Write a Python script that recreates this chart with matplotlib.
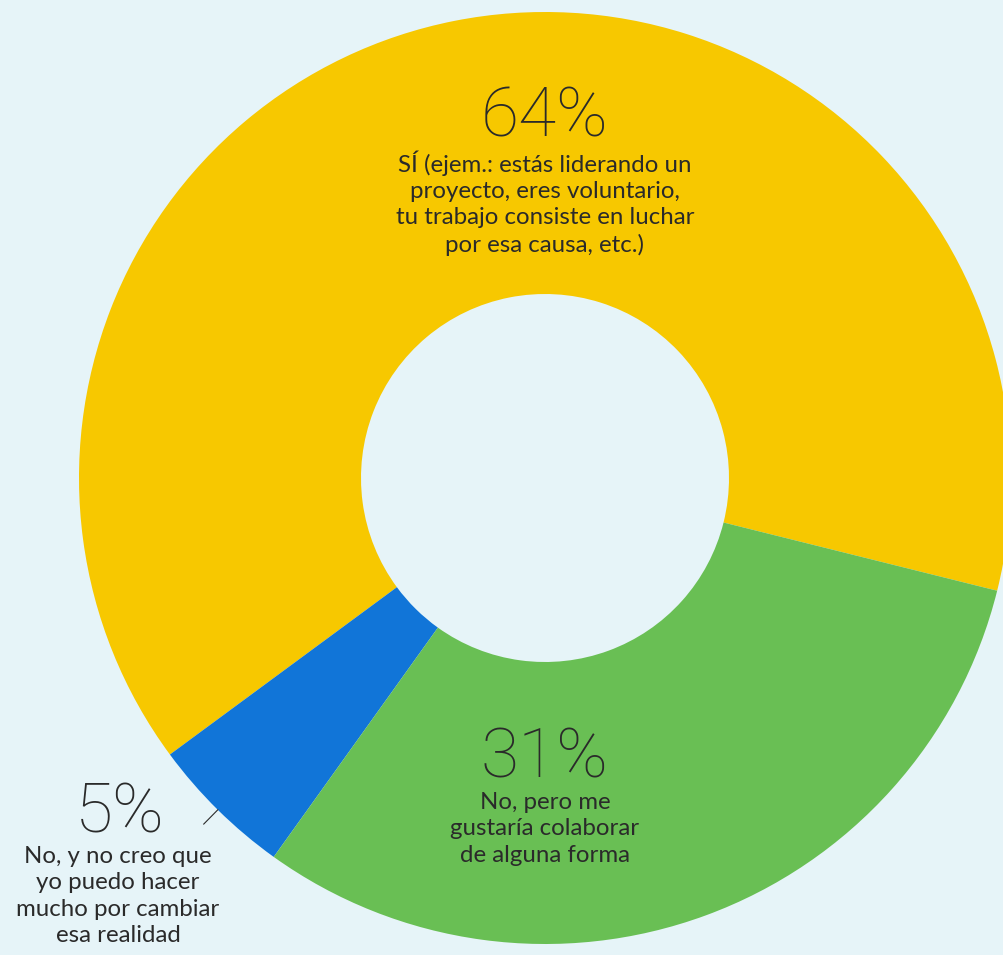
import numpy as np
import matplotlib.pyplot as plt

# survey answers, counterclockwise from the start angle
labels = ['SÍ (ejem.: estás liderando un\nproyecto, eres voluntario,\ntu trabajo consiste en luchar\npor esa causa, etc.)',
          'No, y no creo que\nyo puedo hacer\nmucho por cambiar\nesa realidad',
          'No, pero me\ngustaría colaborar\nde alguna forma']
shares = [64, 5, 31]
colors = ['#F7C800', '#1175D8', '#69BF54']

bg = '#E6F4F8'
ink = '#2A2A2A'
W, H = 1004, 955
cx, cy = 545, H - 478
R, r = 466, 184

fig = plt.figure(figsize=(W / 100, H / 100), dpi=100, facecolor=bg)
ax = fig.add_axes([0, 0, 1, 1])
ax.set_facecolor(bg)

wedges, _ = ax.pie(shares, colors=colors, startangle=-14, counterclock=True,
                   center=(cx, cy), radius=R,
                   wedgeprops=dict(width=R - r, linewidth=0))
ax.set_xlim(0, W)
ax.set_ylim(0, H)
ax.set_aspect('equal')
ax.axis('off')

big = dict(family=['Roboto', 'DejaVu Sans'], fontweight='light', fontsize=50,
           color=ink, ha='center', va='center')
small = dict(family=['Lato', 'DejaVu Sans'], fontsize=17.3, color=ink,
             ha='center', va='top', linespacing=1.32)

# yellow slice
ax.text(cx, H - 118, f'{shares[0]}%', **big)
ax.text(cx, H - 150, labels[0], **small)

# green slice
ax.text(cx, H - 759, f'{shares[2]}%', **big)
ax.text(cx, H - 792, labels[2], **small)

# blue slice sits outside with a short leader
ax.text(120, H - 814, f'{shares[1]}%', **big)
ax.text(118, H - 846, labels[1], **small)
w = wedges[1]
mid = np.deg2rad((w.theta1 + w.theta2) / 2)
ax.plot([cx + R * np.cos(mid), cx + (R + 20) * np.cos(mid)],
        [cy + R * np.sin(mid), cy + (R + 20) * np.sin(mid)],
        color=ink, lw=0.8)

fig.savefig('out.png', dpi=100, facecolor=bg)
